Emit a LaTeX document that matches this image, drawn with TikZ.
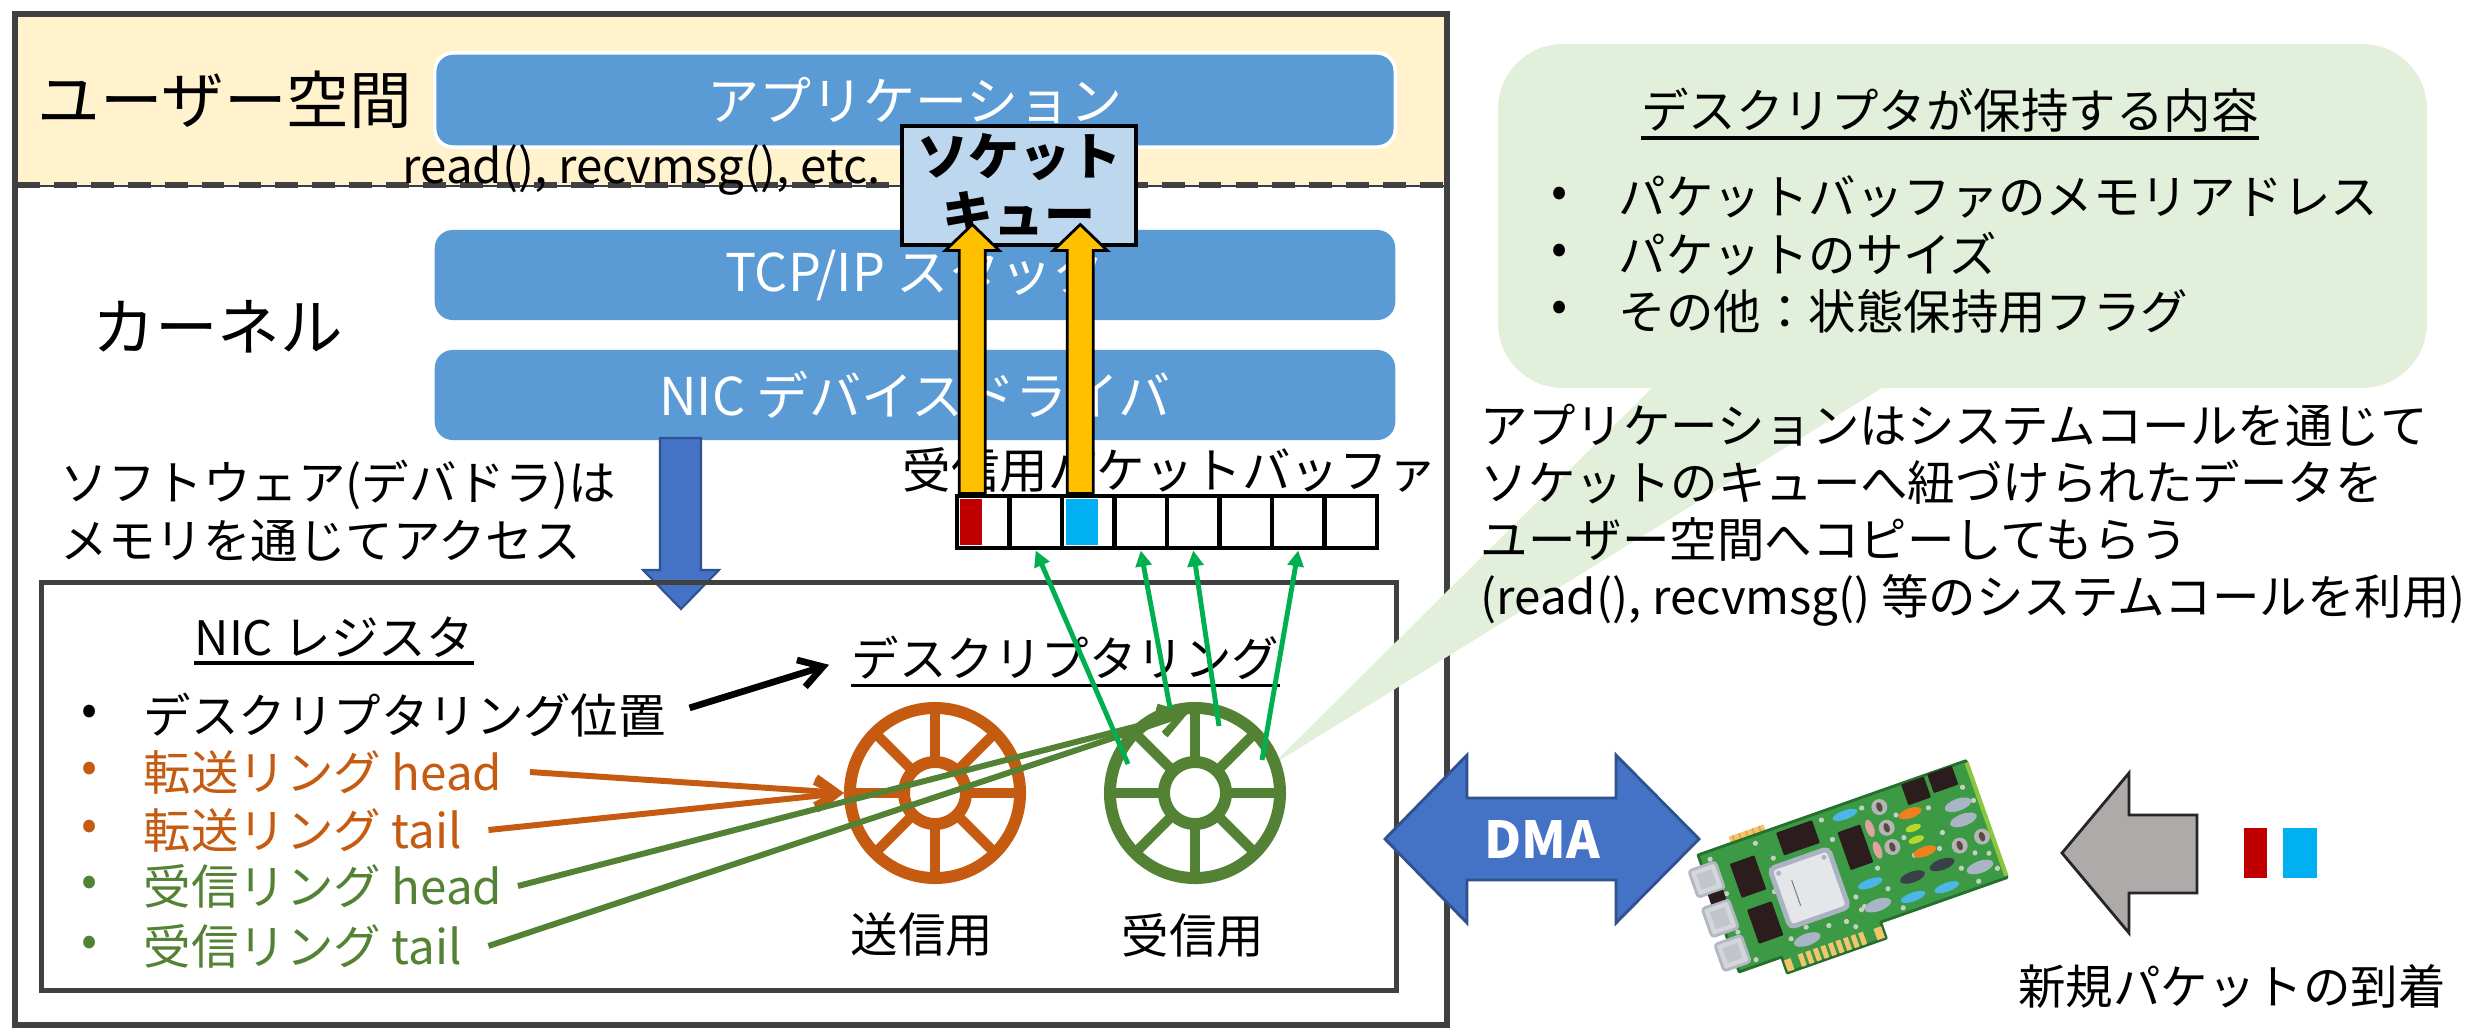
\documentclass[tikz,border=0pt]{standalone}
\usepackage{fontspec}
\setmainfont{Noto Sans CJK JP}
\usetikzlibrary{arrows.meta,calc}

\definecolor{userbg}{HTML}{FFF2CC}
\definecolor{layerblue}{HTML}{5B9BD5}
\definecolor{queuebg}{HTML}{BDD7EE}
\definecolor{arrowblue}{HTML}{4472C4}
\definecolor{arrowedge}{HTML}{2F528F}
\definecolor{gold}{HTML}{FFC000}
\definecolor{pktred}{HTML}{C00000}
\definecolor{pktblue}{HTML}{00B0F0}
\definecolor{txorange}{HTML}{C55A11}
\definecolor{rxgreen}{HTML}{548235}
\definecolor{dmagreen}{HTML}{00B050}
\definecolor{bubble}{HTML}{E2EFDA}
\definecolor{frame}{HTML}{404040}
\definecolor{sepline}{HTML}{333F50}
\definecolor{arrowgray}{HTML}{AEAAAA}
\definecolor{arrowdark}{HTML}{262626}
% card colours
\definecolor{pcbgreen}{HTML}{3C9A45}
\definecolor{pcbdark}{HTML}{24702C}
\definecolor{pcblight}{HTML}{8CC63F}
\definecolor{chipblack}{HTML}{2B1D1D}
\definecolor{chipwhite}{HTML}{E4E6EA}
\definecolor{chipedge}{HTML}{A9B3C1}
\definecolor{goldpad}{HTML}{F2C46B}
\definecolor{goldline}{HTML}{E0A040}
\definecolor{portgray}{HTML}{D3D6DB}
\definecolor{portedge}{HTML}{B3B8C0}
\definecolor{portinner}{HTML}{C2C6CC}
\definecolor{via}{HTML}{C6D0C2}
\definecolor{capgray}{HTML}{B5B5B5}
\definecolor{capdark}{HTML}{5A4A42}
\definecolor{partblue}{HTML}{4DB6E8}
\definecolor{partorange}{HTML}{F0801E}
\definecolor{partlime}{HTML}{B8D82A}
\definecolor{partpink}{HTML}{E0A3A0}
\definecolor{partgray}{HTML}{A9B5C5}
\definecolor{partdark}{HTML}{3A4048}

\begin{document}
\begin{tikzpicture}[x=0.01cm, y=-0.01cm,
  txt/.style={inner sep=0pt, font=\fontsize{13.5pt}{16.2pt}\selectfont},
  titletxt/.style={inner sep=0pt, font=\fontsize{17.8pt}{20pt}\selectfont},
  layer/.style={fill=layerblue, rounded corners=0.18cm, minimum width=9.6cm,
    minimum height=0.9cm, text=white, inner sep=0pt,
    font=\fontsize{14.8pt}{17pt}\selectfont},
  cell/.style={draw=black, line width=1.4pt, minimum width=0.525cm,
    minimum height=0.52cm, inner sep=0pt},
  ring/.style={circle, line width=3.4pt, minimum size=1.7cm, inner sep=0pt},
  blkarrow/.style={line width=1.9pt, -{Straight Barb[length=6.5pt,width=8pt]}},
  orarrow/.style={txorange, line width=1.7pt, -{Straight Barb[length=6.5pt,width=8pt]}},
  grarrow/.style={rxgreen, line width=1.7pt, -{Straight Barb[length=6.5pt,width=8pt]}},
  dmaline/.style={dmagreen, line width=1.4pt, -{Triangle[length=4.5pt,width=4.5pt]}},
  yarrow/.style={draw=black, fill=gold, line width=0.8pt, line join=miter},
  uline/.style={line width=1pt}
]
\useasboundingbox (0,0) rectangle (2484,1030);
\fill[white] (0,0) rectangle (2484,1030);

% ---------------- host side: user space and kernel ----------------
\fill[userbg] (15,14) rectangle (1447,185);
\draw[frame, line width=1.6pt] (15,14) rectangle (1447,1025);
\draw[sepline, line width=0.5pt] (15,186) -- (1447,186);
\draw[frame, line width=1.5pt, dash pattern=on 6.5pt off 4pt] (17,185) -- (1447,185);

\node[titletxt, anchor=west] (userlbl) at (37,100) {ユーザー空間};
\node[titletxt, anchor=west] (kernlbl) at (92,327) {カーネル};

\node[layer, draw=white, line width=1pt, minimum height=0.94cm] (app) at (915,100) {アプリケーション};
\node[layer] (tcp) at (915,275) {TCP/IP スタック};
\node[layer] (drv) at (915,395) {NIC デバイスドライバ};

\node[txt, anchor=west] (calls) at (402,170) {read(), recvmsg(), etc.};

% driver accesses the NIC registers through memory
\draw[arrowedge, fill=arrowblue, line width=0.6pt, line join=miter]
  (660,438) -- (701,438) -- (701,570) -- (719,570) -- (681,609) -- (643,570) -- (660,570) -- cycle;
\node[txt, anchor=west, align=left, font=\fontsize{13.5pt}{16.5pt}\selectfont] (swnote) at (60,511)
  {ソフトウェア(デバドラ)は\\メモリを通じてアクセス};

% ---------------- NIC registers ----------------
\node[draw=frame, line width=1.4pt, minimum width=13.54cm, minimum height=4.07cm, inner sep=0pt] (regbox) at (719,786.5) {};

\node[txt, anchor=west] (reglbl) at (194,637) {NIC レジスタ};
\draw[uline] ([yshift=-0.05cm]reglbl.south west) -- ([yshift=-0.05cm]reglbl.south east);

\node[txt] (rb1) at (90,715) {•};
\node[txt, anchor=west] (r1) at (143,715) {デスクリプタリング位置};
\node[txt, text=txorange] (rb2) at (90,772) {•};
\node[txt, anchor=west, text=txorange] (r2) at (143,772) {転送リング head};
\node[txt, text=txorange] (rb3) at (90,830) {•};
\node[txt, anchor=west, text=txorange] (r3) at (143,830) {転送リング tail};
\node[txt, text=rxgreen] (rb4) at (90,886) {•};
\node[txt, anchor=west, text=rxgreen] (r4) at (143,886) {受信リング head};
\node[txt, text=rxgreen] (rb5) at (90,946) {•};
\node[txt, anchor=west, text=rxgreen] (r5) at (143,946) {受信リング tail};

\node[txt, anchor=west] (ringlbl) at (851,658) {デスクリプタリング};
\draw[uline] ([yshift=-0.05cm]ringlbl.south west) -- ([yshift=-0.05cm]ringlbl.south east);

% ---------------- receive packet buffer ----------------
\node[txt, anchor=west, font=\fontsize{13.8pt}{16.5pt}\selectfont] (buflbl) at (902,470) {受信用パケットバッファ};
\fill[pktred] (960,499) rectangle (982,545);
\fill[pktblue] (1066,499) rectangle (1098,545);
\foreach \i in {1,...,8}
  \node[cell] (c\i) at ({957+52.5*(\i-0.5)},522) {};

% ---------------- socket queue ----------------
\node[draw=black, line width=1.1pt, fill=queuebg, minimum width=2.34cm, minimum height=1.19cm,
  inner sep=0pt, align=center, font=\bfseries\fontsize{14.5pt}{16.5pt}\selectfont] (sockq) at (1019,185.5)
  {ソケット\\キュー};

% packets handed from the buffer to the socket queue
\foreach \c/\dx in {c1/-11, c3/-8}
  \draw[yarrow] ($(\c.north)+(\dx,0)$) -- ++(-13,0) -- ++(0,-243) -- ++(-14,0) -- ++(27,-26)
    -- ++(27,26) -- ++(-14,0) -- ++(0,243) -- cycle;

% ---------------- descriptor call-out ----------------
\fill[bubble, rounded corners=0.65cm] (1498,44) rectangle (2427,388);
\fill[bubble] (1654,386) -- (1885,386) -- (1272,765) -- cycle;

\node[txt] (desctitle) at (1950,110) {デスクリプタが保持する内容};
\draw[uline] ([yshift=-0.05cm]desctitle.south west) -- ([yshift=-0.05cm]desctitle.south east);
\node[txt] (db1) at (1560,197) {•};
\node[txt, anchor=west] (d1) at (1618,197) {パケットバッファのメモリアドレス};
\node[txt] (db2) at (1560,254) {•};
\node[txt, anchor=west] (d2) at (1618,254) {パケットのサイズ};
\node[txt] (db3) at (1560,311) {•};
\node[txt, anchor=west] (d3) at (1618,311) {その他：状態保持用フラグ};

\node[txt, anchor=west, align=left, font=\fontsize{13.5pt}{16.2pt}\selectfont] (syscall) at (1480,515)
  {アプリケーションはシステムコールを通じて\\
   ソケットのキューへ紐づけられたデータを\\
   ユーザー空間へコピーしてもらう\\
   (read(), recvmsg() 等のシステムコールを利用)};

% ---------------- descriptor rings ----------------
\node[ring, draw=txorange] (txring) at (935,793) {};
\node[ring, draw=rxgreen] (rxring) at (1195,793) {};
\foreach \r/\col in {txring/txorange, rxring/rxgreen}{
  \draw[\col, line width=3.4pt] (\r.center) circle[radius=31];
  \foreach \a in {0,45,...,315}
    \draw[\col, line width=2.9pt] (\r.center) ++(\a:36) -- ++(\a:45);
}
\node[txt] (txlbl) at (922,935) {送信用};
\node[txt] (rxlbl) at (1193,935) {受信用};

% register pointers into the rings
\draw[blkarrow, shorten <=0.24cm, shorten >=0.23cm] (r1.east) -- (ringlbl.west);
\draw[orarrow] ([xshift=0.27cm]r2.east) -- (txring.west);
\draw[orarrow] ([xshift=0.26cm]r3.east) -- (txring.west);
\draw[grarrow] ([xshift=0.15cm]r4.east) -- ($(rxring.center)+(-7,-80)$);
\draw[grarrow] ([xshift=0.26cm]r5.east) -- ($(rxring.center)+(-7,-80)$);

% ring descriptors point at buffer slots
\draw[dmaline] ($(rxring.center)+(-67,-29)$) -- (c2.south);
\draw[dmaline] ($(rxring.center)+(-25,-85)$) -- (c4.south);
\draw[dmaline] ($(rxring.center)+(24,-67)$) -- (c5.south);
\draw[dmaline] ($(rxring.center)+(67,-33)$) -- (c7.south);

% ---------------- DMA between host and NIC ----------------
\draw[arrowedge, fill=arrowblue, line width=0.8pt, line join=miter]
  (1385,839) -- (1467,755) -- (1467,798) -- (1616,798) -- (1616,755) -- (1699,839)
  -- (1616,923) -- (1616,880) -- (1467,880) -- (1467,923) -- cycle;
\node[inner sep=0pt, text=white, font=\bfseries\fontsize{14.5pt}{16pt}\selectfont] (dma) at (1542,839) {DMA};

% ---------------- network card ----------------
\begin{scope}[shift={(1698,855)}, rotate=19.4]
  % bracket tab and edge connector
  \fill[goldpad] (35,-7) rectangle (72,1);
  \foreach \i in {0,...,4} \draw[goldline, line width=0.4pt] (39+\i*7,-7) -- (39+\i*7,0);
  \draw[fill=pcbgreen, draw=pcbdark, line width=0.8pt, line join=round]
    (0,0) -- (284,0) -- (284,124) -- (150,124) -- (150,141) -- (45,141) -- (45,124) -- (0,124) -- cycle;
  \draw[pcblight, line width=1.2pt] (284,2) -- (284,122);
  \foreach \i in {0,...,8} \fill[goldpad] (61+\i*8,127) rectangle ++(5,13);
  \fill[goldpad] (46,128) rectangle (53,140);
  \fill[goldpad] (141,128) rectangle (149,140);
  % vias
  \foreach \p in {(10,8),(20,118),(58,8),(70,28),(60,110),(78,104),(128,8),(132,30),(118,112),
                  (135,92),(136,106),(165,72),(168,95),(176,118),(200,28),(204,72),(233,32),
                  (238,60),(244,100),(256,118),(278,40),(272,24),(278,112),(200,52),(140,104),
                  (60,60),(14,46),(12,86),(170,10),(125,120),(100,110),(230,74),(262,90),(275,95)}
    \fill[via] \p circle[radius=2.6];
  % ports on the bracket side
  \foreach \ya/\yb in {12/40, 52/82, 90/118}{
    \draw[fill=portgray, draw=portedge, line width=0.8pt, rounded corners=0.03cm] (-14,\ya) rectangle (14,\yb);
    \fill[portinner] (-8,\ya+6) rectangle (8,\yb-6);
  }
  \fill[chipblack] (-4,41) rectangle (12,51);
  % chips
  \foreach \ax/\ay/\bx/\by in {81/5/119/29, 139/25/163/65, 215/1/239/23, 243/0/269/20, 27/19/53/55, 28/68/54/104}
    \fill[chipblack, rounded corners=0.01cm] (\ax,\ay) rectangle (\bx,\by);
  \draw[fill=chipwhite, draw=chipedge, line width=1.4pt, rounded corners=0.05cm] (63,37) rectangle (125,99);
  \fill[chipedge] (70,44) circle[radius=2.5];
  \fill[chipedge] (118,44) circle[radius=2.5];
  \draw[gray, line width=0.3pt] (80,55) -- (80,82);
  % capacitors
  \foreach \p in {(187,15),(187,37),(186,57),(250,78),(274,77)}{
    \fill[capgray] \p circle[radius=8];
    \fill[capdark] \p ellipse[x radius=3, y radius=5];
  }
  % small parts
  \foreach \p in {(214,31),(215,72)} \fill[partorange] \p ellipse[x radius=12, y radius=5];
  \foreach \p in {(212,46),(211,58)} \fill[partlime] \p ellipse[x radius=8, y radius=3.5];
  \foreach \p in {(171,32),(171,55)} \fill[partpink] \p ellipse[x radius=4, y radius=9];
  \foreach \p in {(152,11),(153,84),(189,111),(224,113)} \fill[partblue] \p ellipse[x radius=13, y radius=4.5];
  \foreach \p in {(262,39),(262,55),(262,105),(153,107),(75,116)} \fill[partgray] \p ellipse[x radius=14, y radius=6];
  \foreach \p in {(195,92),(227,90)} \fill[partdark] \p ellipse[x radius=13, y radius=5.5];
\end{scope}

% ---------------- packets arriving from the network ----------------
\draw[draw=arrowdark, fill=arrowgray, line width=0.8pt, line join=miter]
  (2062,853) -- (2129,773) -- (2129,815) -- (2197,815) -- (2197,893) -- (2129,893) -- (2129,933) -- cycle;
\fill[pktred] (2244,828) rectangle (2267,878);
\fill[pktblue] (2283,828) rectangle (2317,878);
\node[txt] (arrival) at (2232,986) {新規パケットの到着};
\end{tikzpicture}
\end{document}
